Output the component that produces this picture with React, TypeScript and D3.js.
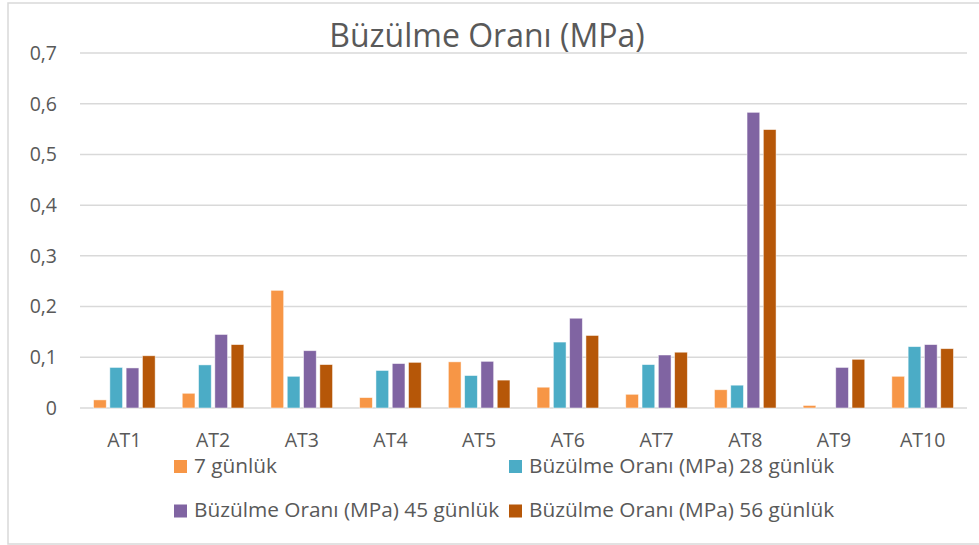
import React from "react";
import * as d3 from "d3";

const categories = ["AT1", "AT2", "AT3", "AT4", "AT5", "AT6", "AT7", "AT8", "AT9", "AT10"];
const seriesNames = [
  "7 günlük",
  "Büzülme Oranı (MPa) 28 günlük",
  "Büzülme Oranı (MPa) 45 günlük",
  "Büzülme Oranı (MPa) 56 günlük",
];
const seriesColors = ["#F79646", "#4BACC6", "#8064A2", "#B65708"];
const values7 = [0.016, 0.029, 0.232, 0.0205, 0.091, 0.041, 0.027, 0.036, 0.005, 0.0625];
const values28 = [0.08, 0.085, 0.0625, 0.074, 0.064, 0.13, 0.0856, 0.045, 0, 0.121];
const values45 = [0.079, 0.145, 0.113, 0.0876, 0.092, 0.177, 0.1045, 0.583, 0.08, 0.125];
const values56 = [0.103, 0.125, 0.0856, 0.09, 0.055, 0.143, 0.11, 0.549, 0.096, 0.117];
const yTicks = [0, 0.1, 0.2, 0.3, 0.4, 0.5, 0.6, 0.7];
const title = "Büzülme Oranı (MPa)";

const W = 979;
const H = 545;
const FONT = "'Open Sans', sans-serif";
const TEXT = "#595959";

export default function App() {
  const series = [values7, values28, values45, values56];
  const x0 = d3.scaleBand<string>().domain(categories).range([80, 967]).padding(0);
  const groupW = 61.6;
  const x1 = d3
    .scaleBand<number>()
    .domain(d3.range(series.length))
    .range([0, groupW])
    .paddingInner(0.22)
    .paddingOuter(0);
  const y = d3.scaleLinear().domain([0, 0.7]).range([408, 53]);
  const fmt = (v: number) => (v === 0 ? "0" : d3.format(".1f")(v).replace(".", ","));

  const legendPos = [
    { x: 174, y: 460 },
    { x: 509, y: 460 },
    { x: 174, y: 504.5 },
    { x: 509, y: 504.5 },
  ];

  return (
    <svg
      width={W}
      height={H}
      style={{ position: "absolute", left: 0, top: 0, background: "#fff" }}
      fontFamily={FONT}
    >
      <rect x={8} y={3} width={W + 10} height={541} fill="#fff" stroke="#D9D9D9" strokeWidth={1.5} />
      <text x={487} y={47} textAnchor="middle" fontSize={32} fill={TEXT}>
        {title}
      </text>
      {yTicks.map((t) => (
        <g key={t}>
          <line x1={80} x2={967} y1={y(t)} y2={y(t)} stroke="#D9D9D9" strokeWidth={1.5} />
          <text x={57} y={y(t)} dy="0.35em" textAnchor="end" fontSize={19.5} fill={TEXT}>
            {fmt(t)}
          </text>
        </g>
      ))}
      {categories.map((c, i) => {
        const cx = (x0(c) as number) + x0.bandwidth() / 2;
        const gx = cx - groupW / 2;
        return (
          <g key={c}>
            {series.map((s, j) =>
              s[i] > 0 ? (
                <rect
                  key={j}
                  x={gx + (x1(j) as number)}
                  y={y(s[i])}
                  width={x1.bandwidth()}
                  height={y(0) - y(s[i])}
                  fill={seriesColors[j]}
                  stroke="#fff"
                  strokeOpacity={0.6}
                  strokeWidth={0.8}
                />
              ) : null
            )}
            <text x={cx} y={446.5} textAnchor="middle" fontSize={19.5} fill={TEXT}>
              {c}
            </text>
          </g>
        );
      })}
      {seriesNames.map((n, j) => (
        <g key={n}>
          <rect x={legendPos[j].x} y={legendPos[j].y} width={13} height={13} fill={seriesColors[j]} />
          <text x={legendPos[j].x + 20} y={legendPos[j].y + 12.5} fontSize={20.8} fill={TEXT}>
            {n}
          </text>
        </g>
      ))}
    </svg>
  );
}
